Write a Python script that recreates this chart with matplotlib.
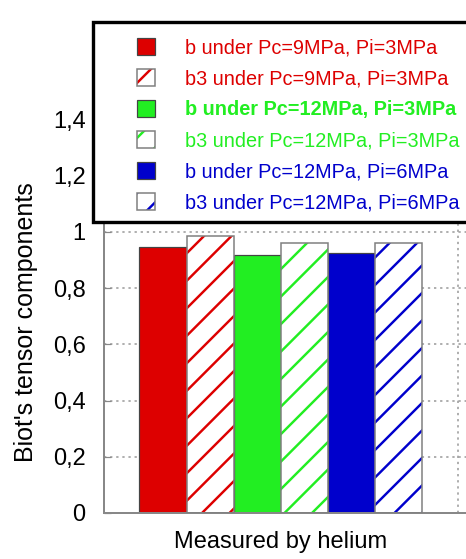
import numpy as np
import matplotlib
matplotlib.use('Agg')
import matplotlib.pyplot as plt
from matplotlib.patches import Rectangle
from matplotlib.ticker import FuncFormatter
from matplotlib.backend_bases import GraphicsContextBase

# denser hatch than matplotlib's default for '/'
_hatch_path = GraphicsContextBase.get_hatch_path
GraphicsContextBase.get_hatch_path = lambda self, density=6.0: _hatch_path(self, 8.0)

labels = ['b under Pc=9MPa, Pi=3MPa', 'b3 under Pc=9MPa, Pi=3MPa',
          'b under Pc=12MPa, Pi=3MPa', 'b3 under Pc=12MPa, Pi=3MPa',
          'b under Pc=12MPa, Pi=6MPa', 'b3 under Pc=12MPa, Pi=6MPa']
values = [0.945, 0.987, 0.918, 0.962, 0.924, 0.962]
colors = ['#dd0000', '#dd0000', '#22ee22', '#22ee22', '#0000cc', '#0000cc']
hatched = [False, True, False, True, False, True]
group_label = 'Measured by helium'
yticks = [0, 0.2, 0.4, 0.6, 0.8, 1.0, 1.2, 1.4]

plt.rcParams['font.family'] = ['Liberation Sans', 'DejaVu Sans']
plt.rcParams['hatch.linewidth'] = 1.6

dpi = 110
fig = plt.figure(figsize=(466 / dpi, 559 / dpi), dpi=dpi)
ax = fig.add_axes([0.2232, 0.0823, 0.8348, 0.8043])

width = 0.8 / len(values)
x = (np.arange(len(values)) - (len(values) - 1) / 2) * width
handles = []
for xi, v, c, h in zip(x, values, colors, hatched):
    if h:
        b1 = ax.bar(xi, v, width, facecolor='white', edgecolor=c, hatch='/', lw=0, zorder=2)
        b2 = ax.bar(xi, v, width, fill=False, edgecolor='#808080', lw=1.0, zorder=3)
        handles.append((b1.patches[0], b2.patches[0]))
    else:
        b1 = ax.bar(xi, v, width, color=c, edgecolor='#444444', lw=0.8, zorder=2)
        handles.append(b1.patches[0])

ax.set_xlim(-0.5, 0.6)
ax.set_ylim(0, 1.6)
ax.set_yticks(yticks)
ax.yaxis.set_major_formatter(FuncFormatter(lambda v, p: f'{v:g}'.replace('.', ',')))
ax.set_xticks([0], [group_label])
ax.set_xticks([0.5], minor=True)
ax.tick_params(axis='y', direction='in', length=4.5, color='#888888', labelsize=15.5, pad=12)
ax.tick_params(axis='x', which='both', length=0, labelsize=15.5, pad=12)
ax.grid(axis='y', color='#999999', linestyle=(0, (1.5, 2.5)), lw=1.0)
ax.grid(axis='x', which='minor', color='#999999', linestyle=(0, (1.5, 2.5)), lw=1.0)
ax.set_axisbelow(True)
for s in ['top', 'right']:
    ax.spines[s].set_visible(False)
for s in ['left', 'bottom']:
    ax.spines[s].set_color('#888888')
    ax.spines[s].set_linewidth(1.3)

ax.set_ylabel("Biot's tensor components", fontsize=16.4)
ax.yaxis.set_label_coords(-0.17, 0.425)

# legend box overlapping the top of the plot
box = Rectangle((93 / 466, 1 - 222 / 559), 1.0, 200 / 559, transform=fig.transFigure,
                facecolor='white', edgecolor='black', lw=2.2, zorder=4)
fig.add_artist(box)
leg = fig.legend(handles, labels, loc='upper left', bbox_to_anchor=(127 / 466, 1 - 28 / 559),
                 frameon=False, borderpad=0, fontsize=13, handlelength=0.93,
                 handleheight=0.93, handletextpad=1.5, labelspacing=0.59)
leg.set_zorder(6)
for t, c in zip(leg.get_texts(), colors):
    t.set_color(c)
leg.get_texts()[2].set_fontweight('bold')

plt.savefig('out.png', dpi=dpi)
plt.close()
